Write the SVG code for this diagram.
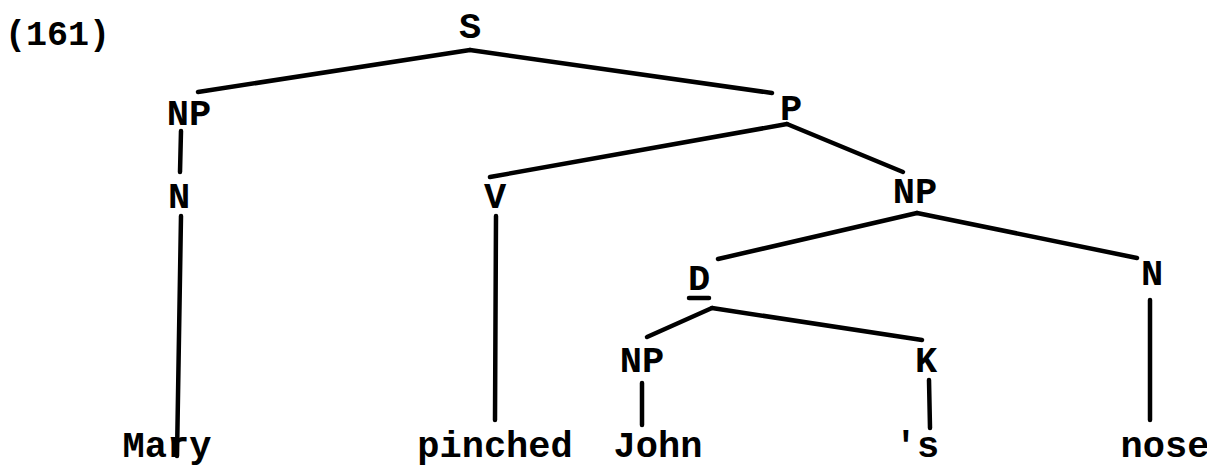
<svg xmlns="http://www.w3.org/2000/svg" width="1207" height="468" viewBox="0 0 1207 468">
<style>
  .t { font-family: "Liberation Mono", "DejaVu Sans Mono", monospace; font-weight: bold; font-size: 37px; fill: #000; text-anchor: middle; }
  .lbl { font-family: "Liberation Mono", "DejaVu Sans Mono", monospace; font-weight: bold; font-size: 35px; fill: #000; }
  .e { stroke: #000; stroke-width: 4.5; stroke-linecap: round; fill: none; }
</style>
<rect width="1207" height="468" fill="#fff"/>
<text class="lbl" x="5" y="45">(161)</text>
<g id="connectors">
  <line class="e" x1="470" y1="50" x2="198" y2="92"/>
  <line class="e" x1="470" y1="50" x2="772" y2="93"/>
  <line class="e" x1="181" y1="131" x2="180" y2="172"/>
  <line class="e" x1="181" y1="216" x2="177" y2="456"/>
  <line class="e" x1="787" y1="124" x2="490" y2="177"/>
  <line class="e" x1="787" y1="124" x2="903" y2="172"/>
  <line class="e" x1="496" y1="216" x2="495" y2="420"/>
  <line class="e" x1="917" y1="213" x2="718" y2="259"/>
  <line class="e" x1="917" y1="213" x2="1137" y2="258"/>
  <line class="e" x1="712" y1="308" x2="647" y2="337"/>
  <line class="e" x1="712" y1="308" x2="922" y2="340"/>
  <line class="e" x1="642" y1="383" x2="642" y2="425"/>
  <line class="e" x1="929" y1="380" x2="930" y2="428"/>
  <line class="e" x1="1150" y1="300" x2="1150" y2="420"/>
</g>
<g id="node-S"><text class="t" x="470" y="38">S</text></g>
<g id="node-NP1"><text class="t" x="189" y="125">NP</text></g>
<g id="node-P"><text class="t" x="791" y="120">P</text></g>
<g id="node-N1"><text class="t" x="179" y="208">N</text></g>
<g id="node-V"><text class="t" x="495" y="208">V</text></g>
<g id="node-NP2"><text class="t" x="915" y="203">NP</text></g>
<g id="node-D"><text class="t" x="699" y="290">D</text><line class="e" x1="689" y1="298" x2="709" y2="298" stroke-width="3"/></g>
<g id="node-N3"><text class="t" x="1152" y="285">N</text></g>
<g id="node-NP3"><text class="t" x="642" y="372">NP</text></g>
<g id="node-K"><text class="t" x="926" y="372">K</text></g>
<g id="leaf-Mary"><text class="t" x="167" y="457">Mary</text></g>
<g id="leaf-pinched"><text class="t" x="495" y="457">pinched</text></g>
<g id="leaf-John"><text class="t" x="658" y="457">John</text></g>
<g id="leaf-s"><text class="t" x="917" y="457">'s</text></g>
<g id="leaf-nose"><text class="t" x="1165" y="457">nose</text></g>
</svg>
